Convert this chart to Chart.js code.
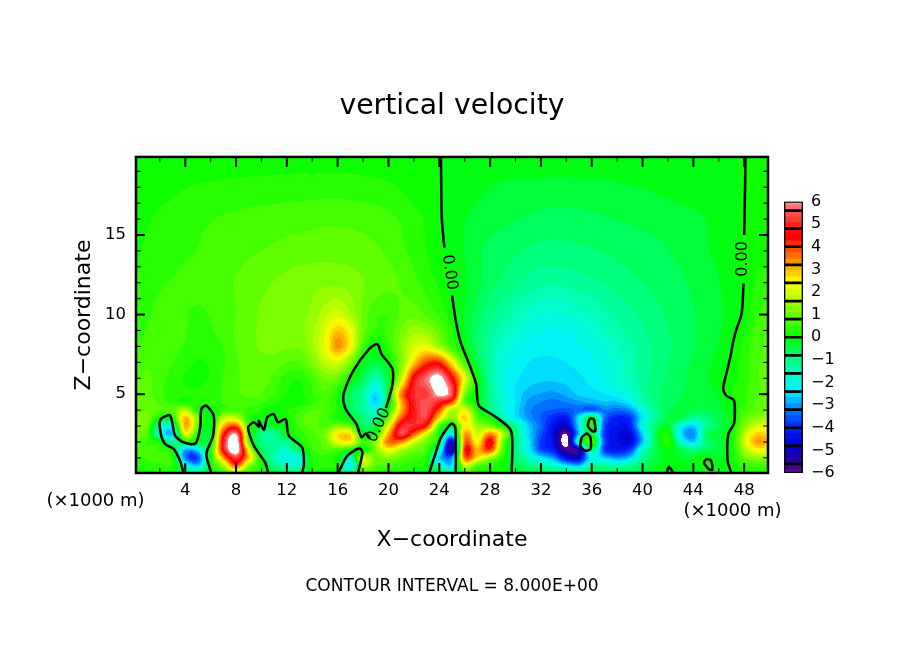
<!DOCTYPE html>
<html>
<head>
<meta charset="utf-8">
<title>vertical velocity</title>
<script src="https://cdn.jsdelivr.net/npm/chart.js@4/dist/chart.umd.min.js"></script>
<style>
  html, body { margin: 0; padding: 0; background: #fff; }
  #wrap { position: relative; width: 904px; height: 654px; overflow: hidden; }
  #main { position: absolute; left: 0; top: 0; }
  #bar { position: absolute; left: 780px; top: 190px; }
</style>
</head>
<body>
<div id="wrap">
  <canvas id="main" width="904" height="654"></canvas>
  <canvas id="bar" width="70" height="300"></canvas>
</div>
<script>
// grid heights (x1000 m), one row of velocity per height, columns are x = 0..50 km
const zLevels = [20, 18, 16, 14, 12, 10, 9, 8, 7, 6, 5, 4.5, 4, 3.5, 3, 2.5, 2, 1.5, 1, 0.5, 0];
const xColumns = Array.from({ length: 51 }, (_, i) => i);

const w20 = [.01,.02,.03,.05,.06,.07,.08,.09,.1,.11, .11,.12,.12,.13,.13,.13,.13,.13,.12,.12, .1,.08,.05,.03,0,-.02,-.04,-.06,-.08,-.09, -.1,-.12,-.13,-.13,-.13,-.13,-.12,-.12,-.11,-.1, -.1,-.09,-.07,-.06,-.05,-.03,-.02,-.01,.01,.01,.01];
const w18 = [.03,.08,.14,.2,.26,.29,.31,.33,.35,.36, .37,.38,.39,.4,.41,.41,.41,.4,.38,.35, .31,.24,.14,.06,0,-.06,-.12,-.2,-.27,-.31, -.32,-.33,-.34,-.35,-.35,-.34,-.33,-.32,-.3,-.28, -.26,-.23,-.2,-.16,-.12,-.08,-.05,-.02,.01,.04,.04];
const w16 = [.07,.22,.33,.38,.43,.48,.52,.56,.59,.62, .64,.66,.68,.7,.72,.74,.74,.73,.7,.66, .6,.5,.36,.22,.02,-.12,-.25,-.35,-.42,-.47, -.52,-.57,-.62,-.65,-.65,-.63,-.6,-.56,-.52,-.5, -.47,-.44,-.4,-.36,-.32,-.26,-.16,-.05,.03,.07,.06];
const w14 = [.2,.33,.38,.45,.5,.54,.6,.66,.7,.76, .8,.85,.9,.93,.95,.97,.97,.95,.9,.84, .74,.6,.44,.26,.06,-.12,-.28,-.48,-.6,-.7, -.76,-.84,-.89,-.9,-.89,-.85,-.82,-.78,-.74,-.7, -.65,-.6,-.54,-.47,-.4,-.3,-.18,-.06,.08,.2,.18];
const w12 = [.3,.42,.5,.55,.58,.6,.66,.74,.82,.92, 1,1.08,1.15,1.2,1.25,1.28,1.28,1.22,1.08,.96, .88,.78,.62,.42,.22,.02,-.2,-.45,-.7,-.85, -1,-1.16,-1.26,-1.3,-1.26,-1.2,-1.13,-1.05,-.95,-.87, -.8,-.72,-.65,-.58,-.48,-.38,-.28,-.12,.02,.3,.35];
const w10 = [.35,.5,.6,.62,.55,.5,.55,.68,.8,.95, 1.1,1.15,1.2,1.25,1.4,1.75,2,1.6,1,.6, .55,.85,.95,.75,.45,.1,-.28,-.65,-1,-1.25, -1.5,-1.72,-1.85,-1.9,-1.85,-1.72,-1.58,-1.43,-1.28,-1.13, -1,-.88,-.76,-.65,-.55,-.43,-.32,-.15,.05,.5,.65];
const w9 = [.4,.55,.65,.62,.55,.45,.5,.65,.85,1, 1.1,1.15,1.2,1.25,1.55,2.1,2.9,2.3,1,.5, .6,1.1,1.5,1.4,.9,.3,-.25,-.75,-1.15,-1.5, -1.75,-2,-2.12,-2.15,-2.1,-1.98,-1.8,-1.6,-1.42,-1.25, -1.1,-.95,-.8,-.68,-.56,-.44,-.3,-.1,.2,.65,.8];
const w8 = [.5,.65,.7,.65,.5,.38,.4,.55,.8,.98, 1.1,1.15,1.1,1.1,1.5,2.2,3.3,2.4,.6,-.02, .45,1.3,2,2.2,1.5,.6,-.1,-.75,-1.3,-1.8, -2,-2.2,-2.3,-2.3,-2.25,-2.15,-2,-1.85,-1.65,-1.4, -1.2,-1,-.85,-.7,-.55,-.42,-.25,-.03,.35,.7,.85];
const w7 = [.6,.75,.7,.55,.35,.25,.3,.5,.75,.95, 1,.95,.8,.8,1.2,1.8,2,1.2,-.1,-.45, .05,1.2,2.8,4,4.2,2.5,.6,-.5,-1.3,-1.9, -2.2,-2.4,-2.45,-2.45,-2.4,-2.3,-2.2,-2,-1.75,-1.45, -1.2,-1,-.8,-.65,-.5,-.35,-.15,.05,.4,.75,.9];
const w6 = [.75,.85,.65,.4,.25,.22,.3,.55,.75,.9, .95,.7,.4,.3,.65,1.1,1,.2,-.6,-1.4, -.3,1.8,4.6,5.7,6.3,4.6,2.2,.1,-1.2,-2, -2.35,-2.5,-2.6,-2.6,-2.55,-2.45,-2.3,-2.1,-1.8,-1.5, -1.2,-.95,-.75,-.6,-.45,-.3,-.1,.12,.4,.75,.95];
const w5 = [.85,.9,.6,.35,.3,.3,.4,.55,.75,.85, .8,.55,.25,.2,.5,.75,.25,-.7,-1.2,-2.5, -.2,3.4,5,5.2,6.2,5.4,1.2,-.05,-1.1,-1.9, -2.45,-2.8,-2.95,-3,-2.85,-2.6,-2.5,-2.4,-2.2,-1.8, -1.3,-.9,-.7,-.55,-.45,-.35,-.2,.25,.5,.75,.95];
const w45 = [.9,.95,.7,.4,.3,.35,.45,.55,.65,.7, .55,.35,.1,.15,.45,.6,.2,-.6,-1.2,-2.6, -.3,3,4.9,5.5,4.9,3.8,.9,-.02,-1,-1.8, -2.4,-3,-3.2,-3.3,-3.2,-3,-2.85,-2.7,-2.7,-2.3, -1.5,-.95,-.65,-.5,-.42,-.35,-.3,-.05,.45,.85,1.05];
const w4 = [.95,1,.8,.85,1.7,.15,-.05,.55,.75,.45, .3,.05,.25,.5,.8,.7,.25,-.6,-1.2,-1.7, .25,3,4.8,5.4,3.8,1.6,2.2,.4,-.9,-1.8, -2.5,-3.1,-3.4,-3.5,-3.6,-3.4,-3.5,-3.2,-3.4,-3.1, -2,-1.1,-.6,-.45,-.55,-.6,-.35,-.1,.6,.9,1.2];
const w35 = [1.1,1.2,0,.2,3,1.2,-.2,1.8,1.9,.35, .15,-.1,.15,.7,.9,.65,.2,-.1,-.9,-1.2, 1.2,3.8,4.9,5.2,2.6,1.2,2.8,.8,.2,-1.4, -2.3,-3,-3.5,-4,-4.2,-2.4,-.1,-3.3,-4.1,-3.9, -2.4,-1.2,-.5,-.5,-1.2,-.9,-.5,-.1,.9,1.3,1.7];
const w3 = [1.1,1,-1.4,-1.6,3.1,.9,-.2,3,3.9,.6, -.4,-.3,0,.6,.9,.7,1.2,1,-.7,-.3, 2.2,4.9,5,4.2,.8,-.4,2.4,1.5,1.2,.25, -1.2,-2.6,-3.4,-4.4,-4.9,-2.4,.4,-3.6,-4.3,-4.1, -2,-.9,-.25,-2,-2.6,-1.2,-.6,-.05,1.2,2,2.2];
const w25 = [.9,.7,-1.8,-2.6,2.1,.3,-.15,4.2,5.9,.9, -1,-1.2,-.05,.4,.7,1.2,2.6,2.6,-.05,.4, 3.1,5.3,3.8,2,.1,-2.2,3.2,1.9,3.4,1.8, -.8,-2.5,-3.6,-4.6,-6,-2.6,-.3,-3.8,-4.5,-4.6, -2.6,-.6,.25,-2.4,-3.1,-.7,-.35,.15,1.7,2.8,2.6];
const w2 = [.8,.5,.2,-1.2,.1,-.1,-.2,4.8,6.6,1, -1,-1.2,-1.1,.15,.6,1,2.2,2.4,.6,1.4, 3.6,3.4,2,1,-.2,-4.8,3.6,2.4,4.6,1.1, -.8,-2.3,-3.8,-4.4,-6.3,-1.4,.9,-3.6,-4.5,-4.7, -2.7,-.7,.35,-1.6,-2.6,-.9,-.5,.1,1.9,3.2,2.9];
const w15 = [.7,.6,.5,-.02,-2.8,-2.4,.3,4.6,6.6,2.4, -.6,-1.2,-1.7,-.6,.5,.8,.7,.15,-.05,1.2, 2.4,1.6,1.1,.6,-1.5,-5.2,4.1,3,4,.8, -.9,-2.2,-3.6,-4.2,-5.7,-5.2,-1,-3.8,-4.2,-3.8, -1.7,-.6,-.05,-.5,-.9,-.6,-.4,.1,1.5,2.4,2.3];
const w1 = [.5,.55,.6,.3,-3.2,-3.6,.1,3.2,5.2,2.9, 0,-1.5,-2,-1.9,.2,.4,.05,-1.4,1.8,1, 1.3,.9,.6,.2,-2.6,-3,3.6,2.6,1.5,.3, -.7,-1.6,-2.4,-3,-4.4,-4.6,-2.2,-2.6,-3,-2.6, -1.2,-.5,-.2,-.3,-.3,.1,-.3,.1,1,1.4,1.4];
const w05 = [.3,.4,.45,.35,-1.6,-2.6,.05,1.5,3.8,1.3, .3,-1,-1.5,-1.6,.2,.3,.1,-2.3,1.5,.8, .7,.5,.3,.1,-1.4,-2.4,1.8,.7,.4,.1, -.5,-.9,-1.2,-1.7,-2.3,-2.6,-1.2,-1.2,-1.4,-1.2, -.7,-.3,-.05,-.15,-.2,.05,-.2,.05,.5,.6,.6];
const w0 = [.1,.15,.2,.15,-.6,-.6,0,.3,1,.3, .1,-.2,-.4,-.3,.1,.1,-.05,-.5,.3,.3, .2,.2,.1,.05,-.3,-.5,.4,.2,.1,.05, -.1,-.2,-.3,-.4,-.5,-.5,-.3,-.3,-.3,-.3, -.2,-.1,.05,-.05,-.05,0,-.05,.02,.1,.15,.15];
const fieldRows = [w20, w18, w16, w14, w12, w10, w9, w8, w7, w6, w5, w45, w4, w35, w3, w25, w2, w15, w1, w05, w0];

// zero contour, [x, z] pairs
const contourTopLeft = [[24.13,19.9],[24.2,16],[24.4,14.2]];
const contourMidLeft = [[25,11.2],[25.3,9.6],[25.7,8.2],[26.3,7],[26.9,5.65],[27.1,4.3],[28.3,3.65],[29.65,2.7],[29.7,.05]];
const contourTopRight = [[48.1,19.9],[48.07,18],[48,15]];
const contourMidRight = [[47.95,11.95],[47.8,10.05],[47.4,9.1],[47.15,8.35],[46.9,7.3],[46.6,6.3],[46.35,5.35],[46.6,4.9],[47.2,4.6],[47.2,3.15],[46.75,2.5],[46.7,.8],[47,.05]];
const contourA = [[3.87,.05],[3.6,.8],[3.1,1.55],[2.42,1.87],[2.08,2.5],[2.03,3.37],[2.76,3.7],[2.95,3.33],[3.2,2.4],[3.87,1.97],[4.8,1.9],[5.18,2.9],[5.27,4.07],[5.66,4.28],[6.24,3.65],[6.19,2.39],[5.66,1.24],[6.05,.05]];
const contourB = [[10.53,.05],[10.3,.7],[9.4,1.76],[8.95,2.9],[9.4,3.23],[9.8,2.95],[9.8,3.33],[10.2,2.75],[10.45,3.54],[10.97,3.75],[11.3,3.23],[11.9,3.44],[12.15,2.39],[13.2,1.65],[13.35,.63],[13.2,.05]];
const contourC = [[16.05,.05],[16.2,.3],[16.75,1.13],[17.7,1.6],[17.95,1.34],[17.6,.05]];
const contourD = [[19.8,4.13],[20.3,5.53],[20.3,6.6],[19.45,7.52],[19.13,8.15],[18.47,7.84],[17.16,6.37],[16.44,4.9],[16.63,4.07],[17.5,3.1],[17.7,2.6],[17.9,2.28],[18.2,2.53],[18.55,2.24]];
const contourE = [[23.2,.05],[23.73,1.34],[24.13,2.28],[24.97,3.16],[25.26,2.9],[25.3,.05]];
const contourF = [[35.2,2.28],[35.6,2.53],[35.9,2.28],[35.9,1.55],[35.45,1.45],[35.1,1.76],[35.2,2.28]];
const contourG = [[35.83,3.48],[36.15,3.44],[36.3,2.7],[36.1,2.66],[35.7,3],[35.83,3.48]];
const contourH = [[41.9,.05],[42.07,.44],[42.45,.05]];
const contourI = [[44.8,.71],[45.05,.92],[45.4,.82],[45.5,.25],[45.2,.3],[44.8,.71]];
const contours = [contourTopLeft, contourMidLeft, contourTopRight, contourMidRight, contourA, contourB, contourC, contourD, contourE, contourF, contourG, contourH, contourI];

const xTickLabels = [4, 8, 12, 16, 20, 24, 28, 32, 36, 40, 44, 48];
const xMinorTicks = [2, 6, 10, 14, 18, 22, 26, 30, 34, 38, 42, 46];
const zTickLabels = [5, 10, 15];
const zMinorTicks = [1, 2, 3, 4, 6, 7, 8, 9, 11, 12, 13, 14, 16, 17, 18, 19];
const barTickLabels = [-6, -5, -4, -3, -2, -1, 0, 1, 2, 3, 4, 5, 6];

const stopValues = [-6, -5.6, -4.8, -4, -3.2, -2.4, -1.6, -.8, 0, .8, 1.6, 2.4, 3.2, 4, 4.4, 4.8, 5.6, 6];
const stopColors = ['#7000a0', '#300090', '#0000d0', '#0020ff', '#0080ff', '#00f0ff', '#00ffc0', '#00ff70', '#00ff00', '#50ff00', '#a8ff00', '#ffff00', '#ffa000', '#ff4000', '#ff0000', '#ff1010', '#ff6060', '#ff9999'];
const BAND = 0.8 / 3;
const FONT = 'DejaVu Sans';

const stopRgb = stopColors.map(c => [1, 3, 5].map(i => parseInt(c.slice(i, i + 2), 16)));

function colorFor(v) {
  if (v > 6 || v < -6) return [255, 255, 255];
  const mid = Math.max(-6, Math.min(6, (Math.floor(v / BAND) + 0.5) * BAND));
  let i = 0;
  while (i < stopValues.length - 2 && mid > stopValues[i + 1]) i++;
  const t = (mid - stopValues[i]) / (stopValues[i + 1] - stopValues[i]);
  return stopRgb[i].map((c, k) => Math.round(c + (stopRgb[i + 1][k] - c) * t));
}

function catmull(a, b, c, d, t) {
  return b + 0.5 * t * (c - a + t * (2 * a - 5 * b + 4 * c - d + t * (3 * (b - c) + d - a)));
}

function rowPosition(z) {
  let i = 0;
  while (i < zLevels.length - 2 && z < zLevels[i + 1]) i++;
  return i + (z - zLevels[i]) / (zLevels[i + 1] - zLevels[i]);
}

function fieldAt(x, z) {
  const rp = rowPosition(z);
  const r = Math.floor(rp), rt = rp - r;
  const c = Math.min(Math.floor(x), xColumns.length - 2), ct = x - c;
  const vals = [-1, 0, 1, 2].map(dr => {
    const row = fieldRows[Math.max(0, Math.min(fieldRows.length - 1, r + dr))];
    const at = k => row[Math.max(0, Math.min(row.length - 1, c + k))];
    return catmull(at(-1), at(0), at(1), at(2), ct);
  });
  return catmull(vals[0], vals[1], vals[2], vals[3], rt);
}

// filled contours, every pixel looked up through the chart's scales
const filledField = {
  id: 'filledField',
  beforeDatasetsDraw(chart) {
    const { ctx, chartArea: a, scales: { x, y } } = chart;
    const w = Math.round(a.width), h = Math.round(a.height);
    const off = document.createElement('canvas');
    off.width = w; off.height = h;
    const octx = off.getContext('2d');
    const img = octx.createImageData(w, h);
    for (let j = 0; j < h; j++) {
      const z = y.getValueForPixel(a.top + j + 0.5);
      for (let i = 0; i < w; i++) {
        const rgb = colorFor(fieldAt(x.getValueForPixel(a.left + i + 0.5), z));
        const p = (j * w + i) * 4;
        img.data[p] = rgb[0]; img.data[p + 1] = rgb[1]; img.data[p + 2] = rgb[2]; img.data[p + 3] = 255;
      }
    }
    octx.putImageData(img, 0, 0);
    ctx.drawImage(off, a.left, a.top);
  },
};

// frame with the inward ticks on all four sides
const frameTicks = {
  id: 'frameTicks',
  afterDatasetsDraw(chart) {
    const { ctx, chartArea: a, scales: { x, y } } = chart;
    ctx.save();
    ctx.strokeStyle = '#000';
    const seg = (x1, y1, x2, y2) => { ctx.beginPath(); ctx.moveTo(x1, y1); ctx.lineTo(x2, y2); ctx.stroke(); };
    const xTicks = (vals, len) => vals.forEach(v => {
      const px = x.getPixelForValue(v);
      seg(px, a.top, px, a.top + len);
      seg(px, a.bottom, px, a.bottom - len);
    });
    const zTicks = (vals, len) => vals.forEach(v => {
      const py = y.getPixelForValue(v);
      seg(a.left, py, a.left + len, py);
      seg(a.right, py, a.right - len, py);
    });
    ctx.lineWidth = 1;
    xTicks(xMinorTicks, 5);
    zTicks(zMinorTicks, 5);
    ctx.lineWidth = 2;
    xTicks(xTickLabels, 10);
    zTicks(zTickLabels, 9);
    ctx.lineWidth = 2.5;
    ctx.strokeRect(a.left, a.top, a.width, a.height);
    ctx.restore();
  },
};

// contour labels sit at data positions, the rest are page notes
const contourLabels = [
  { text: '0.00', x: 24.8, z: 12.65, rot: 82 },
  { text: '0.00', x: 47.93, z: 13.5, rot: -90 },
  { text: '0.00', x: 19.23, z: 3.05, rot: -65 },
];
const pageNotes = [
  { text: '(×1000 m)', x: 95.5, y: 501, size: 18 },
  { text: '(×1000 m)', x: 732.5, y: 511, size: 18 },
  { text: 'CONTOUR INTERVAL = 8.000E+00', x: 452, y: 587, size: 17 },
];

const figureText = {
  id: 'figureText',
  afterDraw(chart) {
    const { ctx, scales: { x, y } } = chart;
    ctx.save();
    ctx.fillStyle = '#000';
    ctx.textAlign = 'center';
    ctx.textBaseline = 'middle';
    contourLabels.forEach(l => {
      ctx.save();
      ctx.translate(x.getPixelForValue(l.x), y.getPixelForValue(l.z));
      ctx.rotate(l.rot * Math.PI / 180);
      ctx.font = `16px "${FONT}"`;
      ctx.fillText(l.text, 0, 0);
      ctx.restore();
    });
    pageNotes.forEach(n => {
      ctx.font = `${n.size}px "${FONT}"`;
      ctx.fillText(n.text, n.x, n.y);
    });
    ctx.restore();
  },
};

new Chart(document.getElementById('main'), {
  type: 'scatter',
  data: {
    datasets: contours.map(c => ({
      data: c.map(p => ({ x: p[0], y: p[1] })),
      showLine: true,
      borderColor: '#000',
      borderWidth: 2.5,
      pointRadius: 0,
      tension: 0.25,
    })),
  },
  options: {
    responsive: false,
    animation: false,
    devicePixelRatio: 1,
    layout: { padding: { left: 71, right: 71, top: 0, bottom: 101 } },
    plugins: {
      legend: { display: false },
      tooltip: { enabled: false },
      title: {
        display: true,
        text: 'vertical velocity',
        color: '#000',
        font: { family: FONT, size: 28.3, weight: 'normal' },
        padding: { top: 90, bottom: 33 },
      },
    },
    scales: {
      x: {
        type: 'linear',
        min: 0.125,
        max: 49.875,
        grid: { display: false, drawTicks: false },
        border: { display: false },
        afterBuildTicks: s => { s.ticks = xTickLabels.map(v => ({ value: v })); },
        afterFit: s => { s.height = 80; s.paddingLeft = 0; s.paddingRight = 0; },
        ticks: { color: '#000', font: { family: FONT, size: 16.5 }, padding: 8, maxRotation: 0, autoSkip: false },
        title: {
          display: true,
          text: 'X−coordinate',
          color: '#000',
          font: { family: FONT, size: 22 },
          padding: { top: 0, bottom: 0 },
        },
      },
      y: {
        type: 'linear',
        min: 0.05,
        max: 19.9,
        grid: { display: false, drawTicks: false },
        border: { display: false },
        afterBuildTicks: s => { s.ticks = zTickLabels.map(v => ({ value: v })); },
        afterFit: s => { s.width = 65; s.paddingTop = 0; s.paddingBottom = 0; },
        ticks: { color: '#000', font: { family: FONT, size: 16.5 }, padding: 10, autoSkip: false },
        title: {
          display: true,
          text: 'Z−coordinate',
          color: '#000',
          font: { family: FONT, size: 22 },
          padding: { top: 0, bottom: 0 },
        },
      },
      // empty right axis, keeps the page title centred on the page
      rightGap: {
        type: 'linear',
        position: 'right',
        grid: { display: false, drawTicks: false },
        border: { display: false },
        ticks: { display: false },
        afterFit: s => { s.width = 65; s.paddingTop = 0; s.paddingBottom = 0; },
      },
    },
  },
  plugins: [filledField, frameTicks, figureText],
});

// colour bar: thin bands stacked as floating bars, black boxes every 0.8 on top
const boxEdges = [-6, -5.6, -4.8, -4, -3.2, -2.4, -1.6, -.8, 0, .8, 1.6, 2.4, 3.2, 4, 4.8, 5.6, 6];
const bandSets = [];
for (let k = -23; k < 23; k++) {
  const lo = Math.max(-6, k * BAND), hi = Math.min(6, (k + 1) * BAND);
  if (hi <= lo) continue;
  const rgb = colorFor((lo + hi) / 2);
  bandSets.push({ data: [[lo, hi]], backgroundColor: `rgb(${rgb.join(',')})`, borderWidth: 0, order: 2 });
}
const boxSets = boxEdges.slice(1).map((hi, i) => ({
  data: [[boxEdges[i], hi]],
  backgroundColor: 'rgba(0,0,0,0)',
  borderColor: '#000',
  borderWidth: 1,
  borderSkipped: false,
  order: 1,
}));

new Chart(document.getElementById('bar'), {
  type: 'bar',
  data: { labels: ['v'], datasets: [...boxSets, ...bandSets] },
  options: {
    responsive: false,
    animation: false,
    devicePixelRatio: 1,
    layout: { padding: { left: 4, right: 0, top: 11.5, bottom: 17 } },
    plugins: { legend: { display: false }, tooltip: { enabled: false } },
    datasets: { bar: { grouped: false, barPercentage: 1, categoryPercentage: 1 } },
    scales: {
      x: { display: false },
      y: {
        position: 'right',
        min: -6,
        max: 6,
        grid: { display: false, drawTicks: false },
        border: { display: false },
        afterBuildTicks: s => { s.ticks = barTickLabels.map(v => ({ value: v })); },
        afterFit: s => { s.width = 47; s.paddingTop = 0; s.paddingBottom = 0; },
        ticks: {
          color: '#000',
          font: { family: FONT, size: 16 },
          padding: 8,
          autoSkip: false,
          callback: v => (v < 0 ? '−' + Math.abs(v) : String(v)),
        },
      },
    },
  },
});
</script>
</body>
</html>
